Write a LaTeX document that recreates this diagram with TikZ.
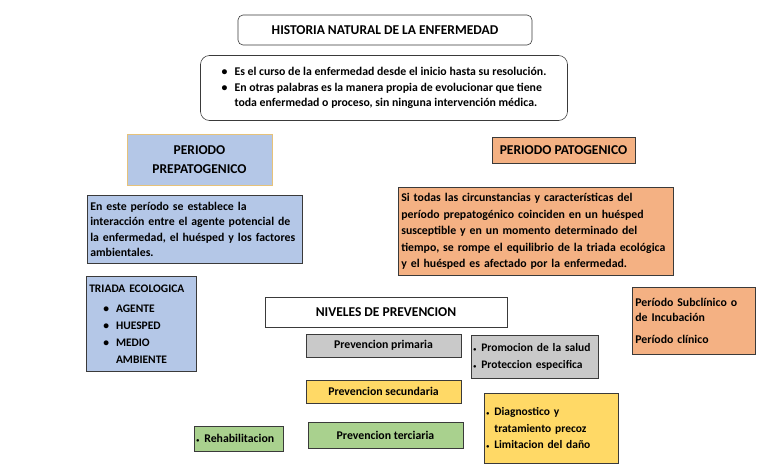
\documentclass[tikz,border=0pt]{standalone}
\usepackage{fontspec}
\setmainfont{Carlito}
\definecolor{paleblue}{HTML}{B4C7E7}
\definecolor{salmon}{HTML}{F4B183}
\definecolor{lightgray}{HTML}{C9C9C9}
\definecolor{sunyellow}{HTML}{FFD966}
\definecolor{leafgreen}{HTML}{A9D18E}
\definecolor{goldline}{HTML}{E6C27A}
\definecolor{boxline}{HTML}{3A3A3A}
\newcommand{\bul}{\textbullet\hspace{7pt}}
\newcommand{\nobul}{\phantom{\textbullet}\hspace{7pt}}
\newcommand{\dotbul}{{\fontsize{6}{6}\selectfont\textbullet}\hspace{5pt}}
\begin{document}
\begin{tikzpicture}[x=1pt,y=-1pt,
            every node/.style={rectangle,draw=boxline,line width=0.6pt,inner sep=3pt,
              font=\fontsize{11.8}{15.5}\selectfont\bfseries},
            heading/.style={font=\fontsize{13.5}{19}\selectfont\bfseries},
            bluebox/.style={fill=paleblue},
            orangebox/.style={fill=salmon},
            graybox/.style={fill=lightgray},
            yellowbox/.style={fill=sunyellow},
            greenbox/.style={fill=leafgreen}]
            \useasboundingbox (0,0) rectangle (768,466);
            % cabecera
            \node[heading,rounded corners=5pt,minimum width=294pt,minimum height=30pt]
              (titulo) at (385,30) {HISTORIA NATURAL DE LA ENFERMEDAD};
            \node[rounded corners=9pt,minimum width=367pt,minimum height=65pt,align=left]
              (definicion) at (384,88) {\bul Es el curso de la enfermedad desde el inicio hasta su resolución.\\
              \bul En otras palabras es la manera propia de evolucionar que tiene\\
              \nobul toda enfermedad o proceso, sin ninguna intervención médica.};
            % periodo prepatogenico
            \node[heading,bluebox,draw=goldline,minimum width=145pt,minimum height=51pt,align=center]
              (prepat) at (199.5,160) {PERIODO\\PREPATOGENICO};
            \node[bluebox,anchor=north west,text width=209pt,minimum height=68pt,align=left]
              (prepatDesc) at (87,195) {En este período se establece la\\interacción entre el agente potencial de\\
              la enfermedad, el huésped y los factores\\ambientales.};
            \node[bluebox,anchor=north west,text width=104pt,minimum height=95pt,align=left,
              font=\fontsize{11.5}{17}\selectfont\bfseries]
              (triada) at (86,276) {TRIADA ECOLOGICA\\[3pt]
              \hspace*{14pt}\bul AGENTE\\ \hspace*{14pt}\bul HUESPED\\
              \hspace*{14pt}\bul MEDIO\\ \hspace*{14pt}\nobul AMBIENTE};
            % periodo patogenico
            \node[heading,orangebox,minimum width=143pt,minimum height=26pt]
              (pat) at (563.5,150) {PERIODO PATOGENICO};
            \node[orangebox,anchor=north west,text width=269pt,minimum height=88pt,align=left,
              font=\fontsize{11.8}{16.5}\selectfont\bfseries]
              (patDesc) at (398,187) {Si todas las circunstancias y características del\\
              período prepatogénico coinciden en un huésped\\susceptible y en un momento determinado del\\
              tiempo, se rompe el equilibrio de la triada ecológica\\y el huésped es afectado por la enfermedad.};
            \node[orangebox,anchor=north west,text width=117pt,minimum height=67pt,align=left]
              (subclinico) at (632,287) {Período Subclínico o\\de Incubación\\[6pt]Período clínico};
            % niveles de prevencion
            \node[heading,minimum width=242pt,minimum height=30pt]
              (niveles) at (386,312) {NIVELES DE PREVENCION};
            \node[graybox,minimum width=155pt,minimum height=23pt]
              (primaria) at (383.5,345.5) {Prevencion primaria};
            \node[graybox,anchor=north west,text width=123pt,minimum height=43pt,align=left,inner xsep=2pt,
              font=\fontsize{11.5}{17}\selectfont\bfseries]
              (primariaItems) at (471,335) {\dotbul Promocion de la salud\\\dotbul Proteccion especifica};
            \node[yellowbox,minimum width=155pt,minimum height=23pt]
              (secundaria) at (383.5,391.5) {Prevencion secundaria};
            \node[yellowbox,anchor=north west,text width=130pt,minimum height=70pt,align=left,inner xsep=2pt,
              inner ysep=1pt,font=\fontsize{11.5}{16.5}\selectfont\bfseries]
              (secundariaItems) at (484,393) {\dotbul Diagnostico y\\\phantom{\dotbul}tratamiento precoz\\
              \dotbul Limitacion del daño\\[19pt]};
            \node[greenbox,minimum width=155pt,minimum height=26pt]
              (terciaria) at (385.5,435) {Prevencion terciaria};
            \node[greenbox,anchor=north west,text width=85pt,minimum height=25pt,align=left,inner xsep=2pt]
              (terciariaItems) at (194,426) {\dotbul Rehabilitacion};
          \end{tikzpicture}
\end{document}
